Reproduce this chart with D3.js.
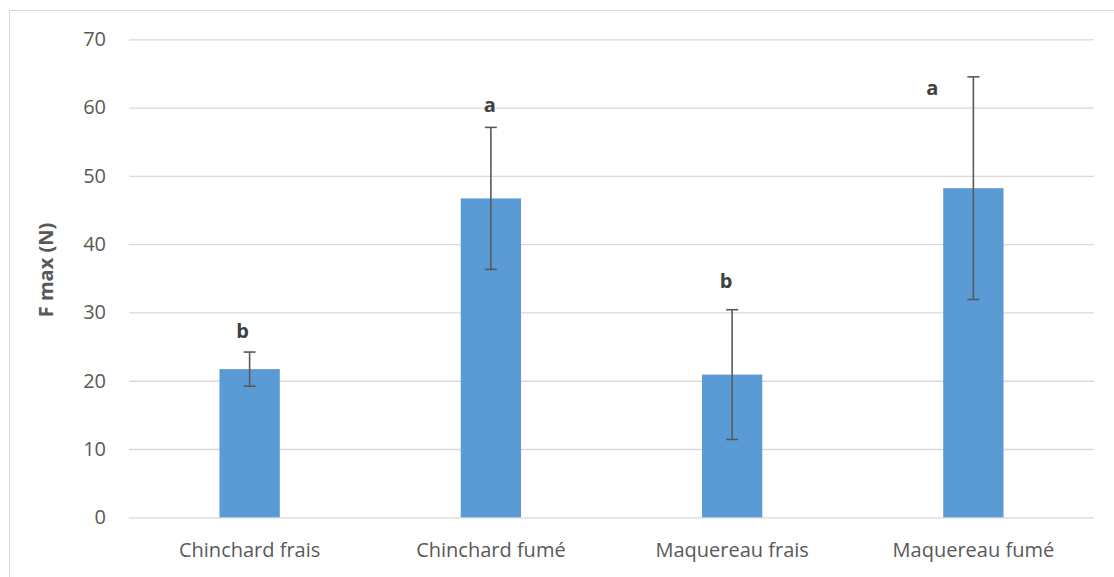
<!DOCTYPE html>
<html><head><meta charset="utf-8">
<script src="https://cdn.jsdelivr.net/npm/d3@7"></script>
<style>html,body{margin:0;padding:0;background:#fff;}svg{display:block;}</style>
</head><body>
<script>
const categories = ["Chinchard frais", "Chinchard fumé", "Maquereau frais", "Maquereau fumé"];
const values = [21.7, 46.7, 20.9, 48.2];
const errors = [2.5, 10.4, 9.5, 16.3];
const letters = ["b", "a", "b", "a"];
const yTicks = [0, 10, 20, 30, 40, 50, 60, 70];
const yTitle = "F max (N)";

(function () {
const W = 1114, H = 577;
const font = "'Open Sans', 'Noto Sans', sans-serif";
const svg = d3.select("body").append("svg").attr("width", W).attr("height", H);

// chart border
svg.append("path").attr("d", `M9.5,${H} V10.5 H${W}`).attr("fill", "none").attr("stroke", "#d9d9d9").attr("stroke-width", 1);

const pl = 129, pr = 1094, pt = 39.3, pb = 517.3;
const x = d3.scaleBand().domain(categories).range([pl, pr]).paddingInner(0.75).paddingOuter(0.375);
const y = d3.scaleLinear().domain([0, 70]).range([pb, pt]);

// gridlines
const yAxis = d3.axisLeft(y).tickValues(yTicks).tickSize(-(pr - pl)).tickPadding(23);
const gy = svg.append("g").attr("transform", `translate(${pl},0)`).call(yAxis);
gy.select(".domain").remove();
gy.selectAll(".tick line").attr("stroke", "#d9d9d9").attr("stroke-width", 1.3);
gy.selectAll(".tick text").attr("fill", "#595959").style("font-family", font).style("font-size", "20px");

// bars
svg.append("g").selectAll("rect").data(categories).join("rect")
  .attr("x", d => x(d)).attr("width", x.bandwidth())
  .attr("y", (d, i) => y(values[i])).attr("height", (d, i) => y(0) - y(values[i]))
  .attr("fill", "#5b9bd5");

// error bars
const eg = svg.append("g").attr("stroke", "#595959").attr("stroke-width", 1.6);
categories.forEach((c, i) => {
  const cx = x(c) + x.bandwidth() / 2;
  const y1 = y(values[i] + errors[i]), y0 = y(values[i] - errors[i]);
  eg.append("line").attr("x1", cx).attr("x2", cx).attr("y1", y1).attr("y2", y0);
  eg.append("line").attr("x1", cx - 6).attr("x2", cx + 6).attr("y1", y1).attr("y2", y1);
  eg.append("line").attr("x1", cx - 6).attr("x2", cx + 6).attr("y1", y0).attr("y2", y0);
});

// x axis labels
const xAxis = d3.axisBottom(x).tickSize(0).tickPadding(26);
const gx = svg.append("g").attr("transform", `translate(0,${pb})`).call(xAxis);
gx.select(".domain").remove();
gx.selectAll(".tick text").attr("fill", "#595959").style("font-family", font).style("font-size", "20px");

// significance letters (manual text boxes)
const letterDx = [-7, -1, -6, -41];
const letterDy = [-14, -15, -22, 18];
svg.append("g").selectAll("text").data(letters).join("text")
  .attr("x", (d, i) => x(categories[i]) + x.bandwidth() / 2 + letterDx[i])
  .attr("y", (d, i) => y(values[i] + errors[i]) + letterDy[i])
  .attr("text-anchor", "middle")
  .attr("fill", "#404040").style("font-family", font).style("font-size", "20px").style("font-weight", "bold")
  .text(d => d);

// y title
svg.append("text").attr("transform", "translate(45,270) rotate(-90)")
  .attr("text-anchor", "middle").attr("dominant-baseline", "central")
  .attr("fill", "#595959").style("font-family", font).style("font-size", "20px").style("font-weight", "bold")
  .text(yTitle);
})();
</script>
</body></html>
